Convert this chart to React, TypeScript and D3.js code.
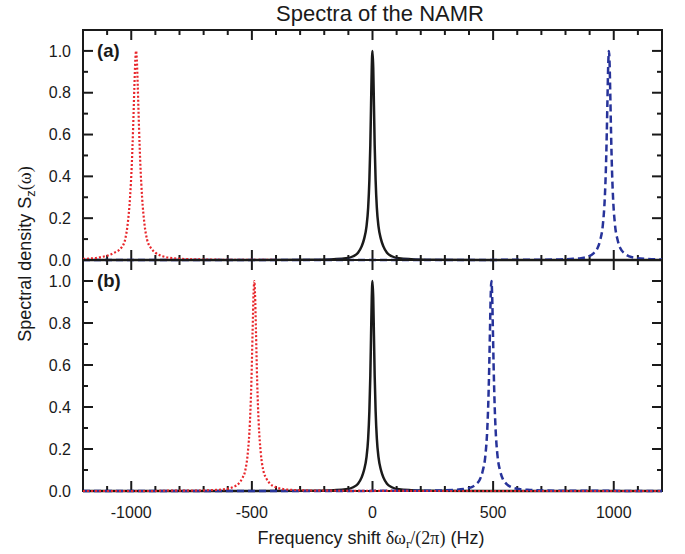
import React from 'react';
import * as d3 from 'd3';

const title = 'Spectra of the NAMR';
const panelLabels = ['(a)', '(b)'];
const xTickValues = [-1000, -500, 0, 500, 1000];
const xTickLabels = ['-1000', '-500', '0', '500', '1000'];
const yTickValues = [0, 0.2, 0.4, 0.6, 0.8, 1.0];
const yTickLabels = ['0.0', '0.2', '0.4', '0.6', '0.8', '1.0'];

// points: [frequency shift (Hz), S_z]
const redA: [number, number][] = [
  [-1200, 0.005], [-1120, 0.015], [-1070, 0.035], [-1040, 0.06], [-1025, 0.1],
  [-1015, 0.17], [-1005, 0.3], [-998, 0.45], [-992, 0.64], [-987, 0.83], [-983, 0.96],
  [-980, 1.0], [-977, 0.96], [-973, 0.83], [-968, 0.64], [-962, 0.45], [-955, 0.3],
  [-945, 0.17], [-935, 0.1], [-920, 0.06], [-900, 0.035], [-870, 0.018], [-820, 0.008],
  [-760, 0.004], [-600, 0.001], [-300, 0], [0, 0], [300, 0], [600, 0], [900, 0], [1200, 0],
];
const blackA: [number, number][] = [
  [-1200, 0], [-900, 0], [-500, 0.0005], [-250, 0.0015], [-160, 0.004], [-110, 0.008],
  [-80, 0.018], [-60, 0.035], [-45, 0.065], [-35, 0.1], [-25, 0.16], [-18, 0.25],
  [-13, 0.38], [-9, 0.55], [-6, 0.74], [-3, 0.92], [0, 1.0], [3, 0.92], [6, 0.74],
  [9, 0.55], [13, 0.38], [18, 0.25], [25, 0.16], [35, 0.1], [45, 0.065], [60, 0.035],
  [80, 0.018], [110, 0.008], [160, 0.004], [250, 0.0015], [500, 0.0005], [900, 0], [1200, 0],
];
const blueA: [number, number][] = [
  [-1200, 0], [-900, 0], [-300, 0], [300, 0], [600, 0.001], [760, 0.002], [820, 0.005],
  [865, 0.009], [895, 0.017], [916, 0.032], [932, 0.055], [944, 0.096], [955, 0.17],
  [963, 0.3], [967, 0.42], [971, 0.6], [974, 0.77], [977, 0.93], [980, 1.0], [983, 0.93],
  [986, 0.77], [989, 0.6], [993, 0.42], [997, 0.3], [1005, 0.17], [1016, 0.096],
  [1028, 0.055], [1044, 0.032], [1065, 0.017], [1095, 0.009], [1140, 0.005], [1200, 0.002],
];
const redB: [number, number][] = [
  [-1200, 0], [-900, 0], [-890, 0.001], [-740, 0.002], [-650, 0.005], [-605, 0.01],
  [-575, 0.02], [-555, 0.035], [-540, 0.06], [-527, 0.1], [-517, 0.18], [-508, 0.33],
  [-502, 0.52], [-497, 0.76], [-493, 0.94], [-490, 1.0], [-487, 0.94], [-483, 0.76],
  [-478, 0.52], [-472, 0.33], [-463, 0.18], [-453, 0.1], [-440, 0.06], [-425, 0.035],
  [-405, 0.02], [-375, 0.01], [-330, 0.005], [-240, 0.002], [-90, 0.001], [300, 0],
  [700, 0], [1200, 0],
];
const blackB: [number, number][] = [
  [-1200, 0], [-900, 0], [-500, 0.0005], [-250, 0.0015], [-160, 0.004], [-110, 0.008],
  [-80, 0.018], [-60, 0.035], [-45, 0.065], [-35, 0.1], [-25, 0.16], [-18, 0.25],
  [-13, 0.38], [-9, 0.55], [-6, 0.74], [-3, 0.92], [0, 1.0], [3, 0.92], [6, 0.74],
  [9, 0.55], [13, 0.38], [18, 0.25], [25, 0.16], [35, 0.1], [45, 0.065], [60, 0.035],
  [80, 0.018], [110, 0.008], [160, 0.004], [250, 0.0015], [500, 0.0005], [900, 0], [1200, 0],
];
const blueB: [number, number][] = [
  [-1200, 0], [-700, 0], [-300, 0], [100, 0.001], [270, 0.002], [333, 0.005], [378, 0.009],
  [408, 0.017], [429, 0.032], [445, 0.055], [457, 0.096], [468, 0.17], [476, 0.3],
  [480, 0.42], [484, 0.6], [487, 0.77], [490, 0.93], [493, 1.0], [496, 0.93], [499, 0.77],
  [502, 0.6], [506, 0.42], [510, 0.3], [518, 0.17], [529, 0.096], [541, 0.055],
  [557, 0.032], [578, 0.017], [608, 0.009], [653, 0.005], [716, 0.002], [900, 0.001], [1200, 0],
];

const W = 685;
const H = 554;
const left = 83;
const right = 662;
const sans = '"Liberation Sans", Arial, sans-serif';
const serif = '"Liberation Serif", "Times New Roman", serif';
const RED = '#e8262b';
const BLUE = '#27339a';
const INK = '#1a1a1a';

const x = d3.scaleLinear().domain([-1200, 1200]).range([left, right]);

const panels = [
  { label: panelLabels[0], top: 30, bottom: 260, red: redA, black: blackA, blue: blueA },
  { label: panelLabels[1], top: 260, bottom: 491, red: redB, black: blackB, blue: blueB },
];

const xMinor = d3.range(-1100, 1101, 100);
const yMinor = d3.range(0.1, 1.01, 0.2);

const App = () => {
  return (
    <svg width={W} height={H} style={{ position: 'absolute', left: 0, top: 0, background: '#fff' }}>
      <text x={380} y={21} textAnchor="middle" fontFamily={sans} fontSize={22} fill={INK}>{title}</text>

      {panels.map((p, pi) => {
        const y = d3.scaleLinear().domain([0, 1.1]).range([p.bottom, p.top]);
        const line = d3.line<[number, number]>()
          .x(d => x(d[0]))
          .y(d => y(d[1]))
          .curve(d3.curveMonotoneX);
        return (
          <g key={pi}>
            {/* x ticks, inward on bottom and top */}
            {xMinor.map(v => {
              const major = xTickValues.includes(Math.round(v));
              const len = major ? 10 : 5;
              return (
                <g key={'x' + v} stroke={INK} strokeWidth={2}>
                  <line x1={x(v)} x2={x(v)} y1={p.bottom} y2={p.bottom - len} />
                  <line x1={x(v)} x2={x(v)} y1={p.top} y2={p.top + len} />
                </g>
              );
            })}
            {/* y ticks, inward on left and right */}
            {yTickValues.map(v => (
              <g key={'y' + v} stroke={INK} strokeWidth={2}>
                <line x1={left} x2={left + 10} y1={y(v)} y2={y(v)} />
                <line x1={right} x2={right - 10} y1={y(v)} y2={y(v)} />
              </g>
            ))}
            {yMinor.map(v => (
              <g key={'ym' + v} stroke={INK} strokeWidth={2}>
                <line x1={left} x2={left + 5} y1={y(v)} y2={y(v)} />
                <line x1={right} x2={right - 5} y1={y(v)} y2={y(v)} />
              </g>
            ))}
            {yTickValues.map((v, i) => (
              <text key={'yl' + v} x={71} y={y(v)} dy="0.36em" textAnchor="end"
                fontFamily={sans} fontSize={16} fill={INK}>{yTickLabels[i]}</text>
            ))}
            <rect x={left} y={p.top} width={right - left} height={p.bottom - p.top}
              fill="none" stroke={INK} strokeWidth={2} />

            <path d={line(p.black) ?? ''} fill="none" stroke={INK} strokeWidth={2.5} />
            <path d={line(p.blue) ?? ''} fill="none" stroke={BLUE} strokeWidth={2.5}
              strokeDasharray="7,4" />
            <path d={line(p.red) ?? ''} fill="none" stroke={RED} strokeWidth={2.2}
              strokeDasharray="2,2" />

            <text x={97} y={y(1.0) + 6} fontFamily={sans} fontWeight="bold" fontSize={18.5}
              fill={INK}>{p.label}</text>
          </g>
        );
      })}

      {xTickValues.map((v, i) => (
        <text key={'xl' + v} x={x(v)} y={518} textAnchor="middle" fontFamily={sans}
          fontSize={16} fill={INK}>{xTickLabels[i]}</text>
      ))}

      <text x={371} y={544} textAnchor="middle" fontFamily={sans} fontSize={18} fill={INK}>
        Frequency shift <tspan fontFamily={serif}>δω</tspan>
        <tspan fontFamily={serif} fontSize={13} dy={4}>r</tspan>
        <tspan fontFamily={serif} dy={-4}>/(2π)</tspan> (Hz)
      </text>

      <text transform="translate(31,254) rotate(-90)" textAnchor="middle" fontFamily={sans}
        fontSize={18} fill={INK}>
        Spectral density S<tspan fontSize={13} dy={4}>z</tspan>
        <tspan fontFamily={serif} dy={-4}>(ω)</tspan>
      </text>
    </svg>
  );
};

export default App;
